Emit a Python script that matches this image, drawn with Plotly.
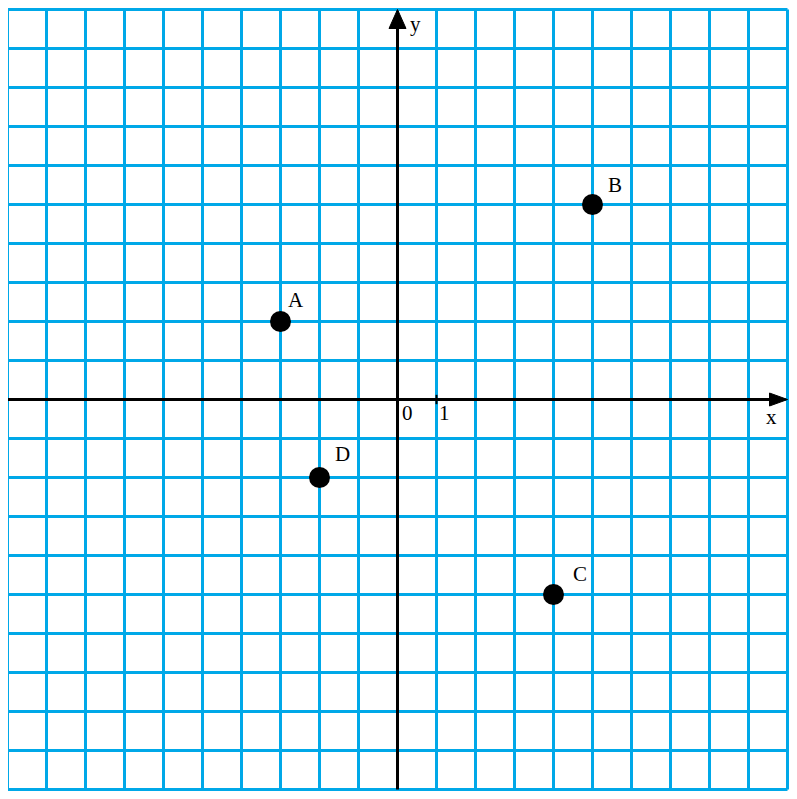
import plotly.graph_objects as go

# ---- data ----
point_labels = ["A", "B", "C", "D"]
point_x = [-3, 5, 4, -2]
point_y = [2, 5, -5, -2]

grid_min = -10
grid_max = 10
unit_tick = 1

# ---- style ----
GRID_COLOR = "#00A8E8"
FONT = "Liberation Serif, Times New Roman, serif"
FSIZE = 21
W, H = 789, 791          # page body has 8px margin
PX = 39.0                # pixels per unit
OX, OY = 389.5, 391.5    # origin in figure pixels

x_range = [-OX / PX, (W - OX) / PX]
y_range = [-(H - OY) / PX, OY / PX]

label_offsets = {"A": (15, 22), "B": (22, 20), "C": (26, 21), "D": (23, 24)}

shapes = []
for v in range(grid_min, grid_max + 1):
    shapes.append(dict(type="line", xref="x", yref="y", x0=v, x1=v, y0=grid_min, y1=grid_max,
                       line=dict(color=GRID_COLOR, width=3), layer="below"))
    shapes.append(dict(type="line", xref="x", yref="y", x0=grid_min, x1=grid_max, y0=v, y1=v,
                       line=dict(color=GRID_COLOR, width=3), layer="below"))

# axes
shapes.append(dict(type="line", xref="x", yref="y", x0=grid_min, x1=grid_max - 0.3, y0=0, y1=0,
                   line=dict(color="black", width=3)))
shapes.append(dict(type="line", xref="x", yref="y", x0=0, x1=0, y0=grid_min, y1=grid_max - 0.3,
                   line=dict(color="black", width=3)))
# arrow heads
ah_len = 19 / PX
ah_half_y = 8.5 / PX
ah_len_x = 18 / PX
ah_half_x = 6.5 / PX
shapes.append(dict(type="path", xref="x", yref="y",
                   path=f"M 0 {grid_max} L {-ah_half_y} {grid_max - ah_len} L {ah_half_y} {grid_max - ah_len} Z",
                   fillcolor="black", line=dict(color="black", width=1)))
shapes.append(dict(type="path", xref="x", yref="y",
                   path=f"M {grid_max} 0 L {grid_max - ah_len_x} {ah_half_x} L {grid_max - ah_len_x} {-ah_half_x} Z",
                   fillcolor="black", line=dict(color="black", width=1)))
# unit tick
shapes.append(dict(type="line", xref="x", yref="y", x0=unit_tick, x1=unit_tick, y0=-0.12, y1=0.12,
                   line=dict(color="black", width=2)))

fig = go.Figure()
fig.add_trace(go.Scatter(x=point_x, y=point_y, mode="markers",
                         marker=dict(color="black", size=21, line=dict(width=0)),
                         hoverinfo="skip"))

annotations = []
for lab, x, y in zip(point_labels, point_x, point_y):
    dx, dy = label_offsets[lab]
    annotations.append(dict(x=x, y=y, xref="x", yref="y", text=lab, showarrow=False,
                            xshift=dx, yshift=dy, font=dict(family=FONT, size=FSIZE, color="black")))

annotations += [
    dict(x=0, y=0, text="0", xshift=10, yshift=-13),
    dict(x=unit_tick, y=0, text="1", xshift=8, yshift=-13),
    dict(x=grid_max, y=0, text="x", xshift=-16, yshift=-17),
    dict(x=0, y=grid_max, text="y", xshift=18, yshift=0, yanchor="top"),
]
for a in annotations[len(point_labels):]:
    a.update(xref="x", yref="y", showarrow=False, font=dict(family=FONT, size=FSIZE, color="black"))

fig.update_layout(
    width=W, height=H,
    margin=dict(l=0, r=0, t=0, b=0),
    paper_bgcolor="white", plot_bgcolor="white",
    showlegend=False,
    shapes=shapes,
    annotations=annotations,
    xaxis=dict(range=x_range, visible=False, fixedrange=True),
    yaxis=dict(range=y_range, visible=False, fixedrange=True),
)

fig.write_html("out.html", config={"displayModeBar": False})
